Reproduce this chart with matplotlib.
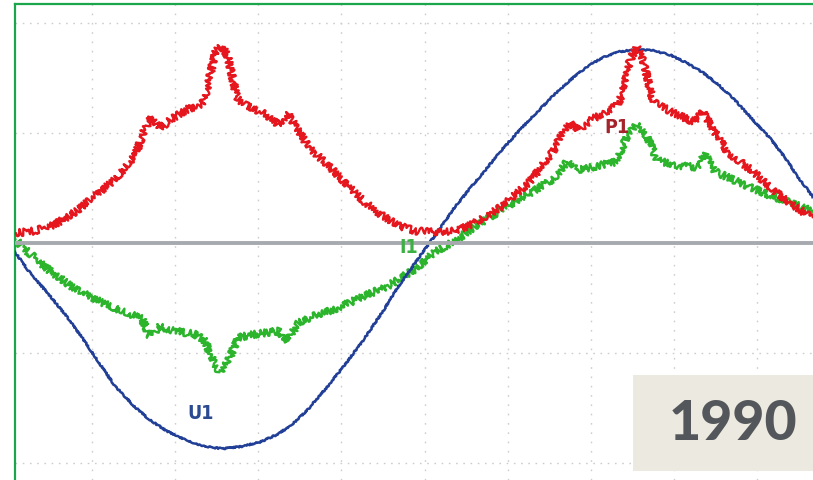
import matplotlib
matplotlib.use("Agg")
import matplotlib.pyplot as plt
from matplotlib.patches import Rectangle

# Time axis in ms (2 ms per division), amplitude in screen divisions
u1_t = [0.14, 0.50, 0.94, 1.35, 1.76, 2.15, 2.55, 3.00, 3.39, 3.80, 4.24, 4.70,
        5.13, 5.60, 6.04, 6.40, 6.76, 7.20, 7.61, 8.10, 8.57, 9.00, 9.36, 9.89,
        10.37, 10.70, 11.10, 11.50, 11.89, 12.30, 12.71, 13.10, 13.50, 13.90,
        14.30, 14.70, 15.11, 15.50, 15.91, 16.30, 16.70, 17.10, 17.52, 17.90,
        18.32, 18.65, 18.97, 19.35]
u1_v = [-0.08, -0.27, -0.46, -0.65, -0.86, -1.08, -1.30, -1.48, -1.61, -1.71,
        -1.79, -1.85, -1.87, -1.85, -1.81, -1.75, -1.67, -1.51, -1.33, -1.10,
        -0.86, -0.62, -0.40, -0.12, 0.13, 0.31, 0.50, 0.68, 0.86, 1.03, 1.19,
        1.34, 1.48, 1.60, 1.69, 1.74, 1.76, 1.75, 1.71, 1.64, 1.55, 1.43, 1.28,
        1.12, 0.95, 0.79, 0.61, 0.42]

p1_t = [0.14, 0.63, 1.11, 1.59, 2.07, 2.55, 3.03, 3.27, 3.44, 3.63, 3.92, 4.31,
        4.65, 4.77, 4.96, 5.13, 5.27, 5.49, 5.75, 6.16, 6.47, 6.72, 6.93, 7.20,
        7.77, 8.16, 8.57, 8.98, 9.36, 9.77, 10.18, 10.61, 11.10, 11.89, 12.54,
        13.09, 13.33, 13.50, 13.67, 14.06, 14.63, 14.75, 14.95, 15.11, 15.26,
        15.50, 15.91, 16.46, 16.70, 16.94, 17.28, 17.91, 18.56, 19.35]
p1_v = [0.09, 0.11, 0.17, 0.28, 0.43, 0.58, 0.79, 1.04, 1.15, 1.04, 1.13, 1.22,
        1.26, 1.40, 1.74, 1.79, 1.69, 1.31, 1.25, 1.17, 1.08, 1.17, 1.04, 0.88,
        0.67, 0.52, 0.37, 0.25, 0.16, 0.11, 0.10, 0.10, 0.16, 0.34, 0.56, 0.83,
        1.01, 1.10, 1.02, 1.13, 1.25, 1.34, 1.67, 1.78, 1.67, 1.28, 1.20, 1.10,
        1.19, 1.04, 0.83, 0.65, 0.43, 0.22]

i1_t = [0.14, 0.39, 0.94, 1.59, 2.24, 2.79, 3.20, 3.39, 3.63, 4.00, 4.48, 4.72,
        4.96, 5.08, 5.27, 5.51, 5.92, 6.47, 6.72, 6.96, 7.37, 7.85, 8.57, 9.12,
        9.77, 10.25, 10.69, 11.50, 12.30, 13.09, 13.43, 13.67, 14.15, 14.63,
        14.87, 15.11, 15.36, 15.60, 16.15, 16.56, 16.75, 16.99, 17.52, 18.32,
        19.35]
i1_v = [0.04, -0.06, -0.24, -0.42, -0.54, -0.63, -0.69, -0.85, -0.76, -0.80,
        -0.83, -0.89, -1.12, -1.17, -1.08, -0.86, -0.83, -0.80, -0.89, -0.72,
        -0.66, -0.60, -0.48, -0.39, -0.24, -0.08, 0.01, 0.22, 0.40, 0.58, 0.74,
        0.66, 0.70, 0.74, 0.97, 1.08, 0.97, 0.75, 0.70, 0.69, 0.81, 0.65, 0.56,
        0.43, 0.29]

grid_t = [0, 2, 4, 6, 8, 10, 12, 14, 16, 18]
grid_v = [-2, -1, 1, 2]
year = "1990"

W, H = 813, 481
fig = plt.figure(figsize=(W / 100, H / 100), dpi=100)
fig.patch.set_facecolor("white")
ax = fig.add_axes([15 / W, 0, (W - 15) / W, (H - 5) / H])
ax.set_xlim(0.144, 19.35)
ax.set_ylim(-2.155, 2.173)
ax.set_xticks([])
ax.set_yticks([])
for side in ("right", "bottom"):
    ax.spines[side].set_visible(False)
for side in ("top", "left"):
    ax.spines[side].set_color("#1aa64a")
    ax.spines[side].set_linewidth(1.6)

# scope graticule
for t in grid_t:
    ax.axvline(t, color="#cdcdcd", lw=1.0, dashes=(1.2, 5.5), zorder=1)
for v in grid_v:
    ax.axhline(v, color="#cdcdcd", lw=1.0, dashes=(1.2, 4.0), zorder=1)

# traces, drawn with a fine jitter like a sampled scope trace
g, = ax.plot(i1_t, i1_v, color="#2cb52c", lw=1.7, zorder=2)
g.set_sketch_params(scale=3.6, length=0.5, randomness=2.0)
b, = ax.plot(u1_t, u1_v, color="#213f96", lw=1.8, zorder=3)
b.set_sketch_params(scale=0.7, length=0.5, randomness=2.0)
r, = ax.plot(p1_t, p1_v, color="#e5161d", lw=1.7, zorder=4)
r.set_sketch_params(scale=3.6, length=0.5, randomness=2.0)

# zero reference
ax.axhline(0, color="#a6a9ad", lw=2.8, zorder=5)

# channel labels
lab_kw = dict(fontsize=14, fontweight="bold", family="DejaVu Sans",
              fontstretch="condensed", ha="center", va="center", zorder=6)
ax.text(4.62, -1.54, "U1", color="#2b4a92", **lab_kw)
ax.text(14.63, 1.06, "P1", color="#a5232a", **lab_kw)
ax.text(9.63, -0.03, "I1", color="#3cb043", **lab_kw)

# year tag
fig.patches.append(Rectangle((633 / W, 9 / H), 180 / W, 96 / H,
                             transform=fig.transFigure, facecolor="#ece9e0",
                             edgecolor="none", zorder=10))
fig.text(733 / W, 1 - 424 / H, year, fontsize=40, fontweight=900,
         family=["Lato", "DejaVu Sans"], color="#53575b",
         ha="center", va="center", zorder=11)

fig.savefig("out.png", dpi=100)
